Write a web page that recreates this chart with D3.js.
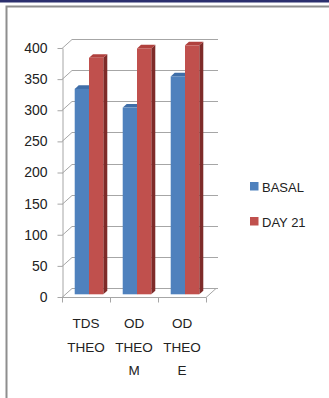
<!DOCTYPE html>
<html>
<head>
<meta charset="utf-8">
<script src="https://cdn.jsdelivr.net/npm/d3@7"></script>
<style>
  html, body { margin: 0; padding: 0; background: #fff; }
  svg { display: block; }
  text { font-family: "Liberation Sans", Arial, sans-serif; fill: #222; }
</style>
</head>
<body>
<svg id="chart" width="329" height="398"></svg>
<script>
// Category labels, one entry per wrapped line
const categories = ["TDS THEO", "OD THEO M", "OD THEO E"];
const categoryLines = [["TDS", "THEO"], ["OD", "THEO", "M"], ["OD", "THEO", "E"]];
const seriesNames = ["BASAL", "DAY 21"];
const basal = [330, 300, 350];
const day21 = [380, 395, 400];
const yTicks = [0, 50, 100, 150, 200, 250, 300, 350, 400];

const colors = {
  BASAL:   { front: "#4F81BD", top: "#3F6EA8", side: "#2F5486" },
  "DAY 21": { front: "#C0504D", top: "#B0413E", side: "#7E2B29" }
};

const svg = d3.select("#chart");

// Page frame: navy strip along the top and a grey panel border
svg.append("rect").attr("x", 0).attr("y", 0).attr("width", 329).attr("height", 2.5).attr("fill", "#2B2F6E");
svg.append("path").attr("d", "M6.5,398 V6.5 H329").attr("fill", "none").attr("stroke", "#8E8E8E").attr("stroke-width", 2);

// Front plane of the plot area
const plotLeft = 62, plotRight = 206, plotBottom = 297, plotTop = 48;
// Perspective offset of the back wall
const depthX = 10, depthY = -9;

const x = d3.scaleBand().domain(categories).range([plotLeft, plotRight]);
const y = d3.scaleLinear().domain([0, 400]).range([plotBottom, plotTop]);
const xs = d3.scaleBand().domain(seriesNames).range([0, x.bandwidth()]).paddingOuter(0.68).paddingInner(0);

const grid = svg.append("g").attr("stroke", "#A6A6A6").attr("fill", "none").attr("stroke-width", 1);

// Back wall gridlines plus their diagonals on the side wall
yTicks.forEach(t => {
  const yy = Math.round(y(t)) + 0.5;
  grid.append("path")
    .attr("d", `M${plotLeft},${yy} L${plotLeft + depthX},${yy + depthY} H${plotRight + depthX + 2}`);
});

// Floor outline and category ticks
const fy = plotBottom + 0.5;
grid.append("path").attr("d", `M${plotLeft},${fy} H${plotRight} L${plotRight + depthX},${fy + depthY}`);
x.domain().forEach(c => {
  const xx = Math.round(x(c)) + 0.5;
  grid.append("line").attr("x1", xx).attr("x2", xx).attr("y1", fy).attr("y2", fy + 5);
});
grid.append("line").attr("x1", plotRight + 0.5).attr("x2", plotRight + 0.5).attr("y1", fy).attr("y2", fy + 5);

// Value axis on the front plane
const yAxis = svg.append("g")
  .attr("transform", `translate(${plotLeft + 0.5},0)`)
  .call(d3.axisLeft(y).tickValues(yTicks).tickSize(5).tickPadding(10).tickSizeOuter(0));
yAxis.select(".domain").attr("stroke", "#A6A6A6");
yAxis.selectAll(".tick line").attr("stroke", "#A6A6A6");
yAxis.selectAll(".tick text").attr("font-size", 14).attr("fill", "#222")
  .attr("font-family", "'Liberation Sans', Arial, sans-serif");

// 3-D bars: front face, top face, right side face
const barDX = 4, barDY = -3.6;
const shiftX = (depthX - barDX) / 2, shiftY = (depthY - barDY) / 2;
const bars = svg.append("g");
categories.forEach((c, i) => {
  [["BASAL", basal[i]], ["DAY 21", day21[i]]].forEach(([s, v]) => {
    const x0 = x(c) + xs(s) + shiftX;
    const w = xs.bandwidth();
    const yt = y(v) + shiftY, yb = y(0) + shiftY;
    const col = colors[s];
    bars.append("path")
      .attr("d", `M${x0 + w},${yt} L${x0 + w + barDX},${yt + barDY} L${x0 + w + barDX},${yb + barDY} L${x0 + w},${yb} Z`)
      .attr("fill", col.side);
    bars.append("path")
      .attr("d", `M${x0},${yt} L${x0 + barDX},${yt + barDY} L${x0 + w + barDX},${yt + barDY} L${x0 + w},${yt} Z`)
      .attr("fill", col.top);
    bars.append("rect")
      .attr("x", x0).attr("y", yt).attr("width", w).attr("height", yb - yt)
      .attr("fill", col.front);
  });
});

// Wrapped category labels
const catLabels = svg.append("g").attr("font-size", 13.5).attr("text-anchor", "middle");
categories.forEach((c, i) => {
  const t = catLabels.append("text").attr("x", x(c) + x.bandwidth() / 2).attr("y", 328);
  categoryLines[i].forEach((line, j) => {
    t.append("tspan").attr("x", x(c) + x.bandwidth() / 2).attr("dy", j === 0 ? 0 : 23.5).text(line);
  });
});

// Legend
const legend = svg.append("g").attr("font-size", 13);
seriesNames.forEach((s, i) => {
  const g = legend.append("g").attr("transform", `translate(250,${182 + i * 35})`);
  g.append("rect").attr("width", 8.5).attr("height", 8.5).attr("fill", colors[s].front);
  g.append("text").attr("x", 12).attr("y", 9.5).text(s);
});
</script>
</body>
</html>
